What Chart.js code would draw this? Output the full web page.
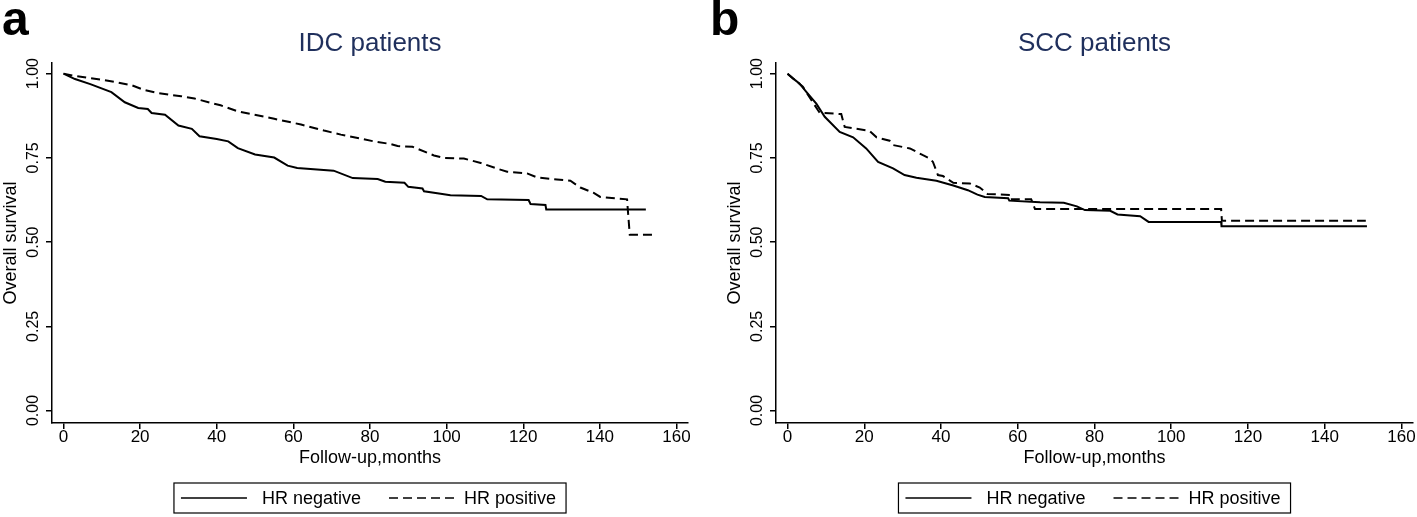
<!DOCTYPE html>
<html>
<head>
<meta charset="utf-8">
<script src="https://cdn.jsdelivr.net/npm/chart.js@4.4.1/dist/chart.umd.min.js"></script>
<style>
  html, body { margin: 0; padding: 0; background: #fff; overflow: hidden; }
  #wrap { position: relative; width: 1417px; height: 517px; }
  canvas { position: absolute; top: 0; }
  #idc { left: 0; }
  #scc { left: 708px; }
</style>
</head>
<body>
<div id="wrap">
  <canvas id="idc" width="708" height="517"></canvas>
  <canvas id="scc" width="709" height="517"></canvas>
</div>
<script>
// tick labels and legend
var xTicks = [0, 20, 40, 60, 80, 100, 120, 140, 160];
var yTicks = [0, 0.25, 0.5, 0.75, 1];
var legendLabels = ['HR negative', 'HR positive'];

// panel a - IDC patients
var idcNegMonths = [0, 3, 7, 12.5, 16, 19.5, 22, 23, 26.5, 30, 33.5, 35.5, 40, 43, 45.5, 50, 55, 58.5, 61, 70.5,
  75.5, 82, 84, 89, 90, 93.7, 94.1, 98, 101, 109, 110.6, 121.4, 121.9, 125.8, 126, 152];
var idcNegSurv = [1.000, 0.984, 0.969, 0.945, 0.915, 0.898, 0.895, 0.883, 0.878, 0.846, 0.836, 0.814, 0.806, 0.799, 0.779, 0.760, 0.751, 0.727, 0.720, 0.712,
  0.690, 0.687, 0.679, 0.676, 0.664, 0.659, 0.651, 0.644, 0.639, 0.637, 0.627, 0.625, 0.613, 0.610, 0.597, 0.597];
var idcPosMonths = [0, 3, 11.6, 17.7, 21.2, 24.7, 30.7, 34.2, 41, 45.5, 55, 62, 68, 72.4, 81, 85.4, 87.2, 91.1, 96.7, 99.3,
  104.5, 108.9, 113.2, 115.8, 121, 123.6, 128.8, 132.3, 134.9, 138.4, 140.1, 147.1, 147.3, 147.8, 154];
var idcPosSurv = [1.000, 0.993, 0.979, 0.966, 0.951, 0.942, 0.933, 0.926, 0.906, 0.888, 0.866, 0.849, 0.831, 0.819, 0.799, 0.791, 0.785, 0.783, 0.757, 0.750,
  0.748, 0.735, 0.718, 0.709, 0.704, 0.692, 0.686, 0.682, 0.662, 0.646, 0.634, 0.627, 0.595, 0.522, 0.522];

// panel b - SCC patients
var sccNegMonths = [0, 1.4, 3.1, 4.9, 7.5, 9.7, 13.6, 17.1, 20.5, 23.6, 27.5, 30.5, 33.6, 38.8, 43.2, 47, 49.5, 51.4, 57.5, 57.8,
  65.8, 72, 75.4, 77.5, 84.1, 86, 91.9, 94.1, 113, 113.1, 151];
var sccNegSurv = [1.000, 0.986, 0.971, 0.946, 0.911, 0.872, 0.827, 0.811, 0.778, 0.738, 0.719, 0.699, 0.691, 0.682, 0.668, 0.654, 0.641, 0.634, 0.630, 0.623,
  0.618, 0.617, 0.606, 0.595, 0.593, 0.582, 0.577, 0.560, 0.560, 0.547, 0.547];
var sccPosMonths = [0, 4, 7.9, 8.4, 14, 14.9, 21.4, 23.2, 26.6, 27.5, 31.9, 35.3, 37.1, 37.9, 39.2, 40.5, 43.2, 47.5, 50.1, 52.1,
  58, 58.1, 63.5, 64.5, 113, 113.2, 150.7];
var sccPosSurv = [1.000, 0.961, 0.892, 0.884, 0.880, 0.842, 0.830, 0.811, 0.801, 0.788, 0.778, 0.758, 0.748, 0.738, 0.699, 0.696, 0.676, 0.674, 0.662, 0.643,
  0.640, 0.627, 0.627, 0.598, 0.598, 0.563, 0.563];

var FONT = '"Liberation Sans", Arial, Helvetica, sans-serif';
Chart.defaults.font.family = FONT;
Chart.defaults.color = '#000';

function pts(months, surv) {
  return months.map(function (m, i) { return { x: m, y: surv[i] }; });
}

// legend in a framed box under the x axis
var boxLegend = {
  id: 'boxLegend',
  afterDraw: function (chart) {
    var ctx = chart.ctx, area = chart.chartArea, sets = chart.data.datasets;
    ctx.save();
    ctx.font = '18px ' + FONT;
    var w0 = ctx.measureText(sets[0].label).width;
    var w1 = ctx.measureText(sets[1].label).width;
    var len = 66;
    var total = 7 + len + 15 + w0 + 28 + len + 9 + w1 + 10;
    var left = (area.left + area.right) / 2 - total / 2;
    var top = chart.height - 34, h = 30, mid = top + h / 2;
    ctx.strokeStyle = '#000';
    ctx.lineWidth = 1.2;
    ctx.strokeRect(left, top, total, h);
    var x = left + 7;
    ctx.lineWidth = 1.6;
    ctx.beginPath(); ctx.moveTo(x, mid); ctx.lineTo(x + len, mid); ctx.stroke();
    x += len + 15;
    ctx.fillStyle = '#000';
    ctx.textBaseline = 'middle';
    ctx.fillText(sets[0].label, x, mid + 1);
    x += w0 + 28;
    ctx.setLineDash([9, 5]);
    ctx.beginPath(); ctx.moveTo(x, mid); ctx.lineTo(x + len, mid); ctx.stroke();
    ctx.setLineDash([]);
    x += len + 9;
    ctx.fillText(sets[1].label, x, mid + 1);
    ctx.restore();
  }
};

function makeChart(id, title, letter, negM, negS, posM, posS, padL, padR) {
  var letterPlugin = {
    id: 'panelLetter',
    afterDraw: function (chart) {
      var ctx = chart.ctx;
      ctx.save();
      ctx.font = 'bold 48px ' + FONT;
      ctx.fillStyle = '#000';
      ctx.textBaseline = 'alphabetic';
      ctx.fillText(letter, 2, 35);
      ctx.restore();
    }
  };
  return new Chart(document.getElementById(id).getContext('2d'), {
    type: 'line',
    data: {
      datasets: [{
        label: legendLabels[0],
        data: pts(negM, negS),
        borderColor: '#000',
        borderWidth: 2,
        pointRadius: 0,
        tension: 0
      }, {
        label: legendLabels[1],
        data: pts(posM, posS),
        borderColor: '#000',
        borderWidth: 2,
        borderDash: [9, 5],
        pointRadius: 0,
        tension: 0
      }]
    },
    options: {
      responsive: false,
      animation: false,
      devicePixelRatio: 1,
      layout: { padding: { left: padL, right: padR, top: 0, bottom: 44 } },
      plugins: {
        legend: { display: false },
        tooltip: { enabled: false },
        title: {
          display: true,
          text: title,
          fullSize: false,
          color: '#1f2f5c',
          font: { size: 26, weight: 'normal', lineHeight: 1.2 },
          padding: { top: 28, bottom: 4 }
        }
      },
      scales: {
        x: {
          type: 'linear',
          min: -3,
          max: 163,
          afterBuildTicks: function (s) { s.ticks = xTicks.map(function (v) { return { value: v }; }); },
          afterFit: function (s) { s.height = 50; },
          grid: { drawOnChartArea: false, drawTicks: true, tickLength: 6, lineWidth: 1.5, color: '#000' },
          border: { display: true, color: '#000', width: 1.5 },
          ticks: { color: '#000', font: { size: 17, lineHeight: 1 }, padding: 0, maxRotation: 0, autoSkip: false },
          title: { display: true, text: 'Follow-up,months', color: '#000', font: { size: 18 }, padding: { top: 0, bottom: 4 } }
        },
        y: {
          type: 'linear',
          min: -0.037,
          max: 1.031,
          afterBuildTicks: function (s) { s.ticks = yTicks.map(function (v) { return { value: v }; }); },
          afterFit: function (s) { s.width = 52; },
          grid: { drawOnChartArea: false, drawTicks: true, tickLength: 6, lineWidth: 1.5, color: '#000' },
          border: { display: true, color: '#000', width: 1.5 },
          ticks: {
            color: '#000', font: { size: 16, lineHeight: 1 }, minRotation: 90, maxRotation: 90,
            crossAlign: 'center', padding: -3,
            callback: function (v) { return Number(v).toFixed(2); }
          },
          title: { display: true, text: 'Overall survival', color: '#000', font: { size: 18 }, padding: { top: 0, bottom: 0 } }
        }
      }
    },
    plugins: [boxLegend, letterPlugin]
  });
}

makeChart('idc', 'IDC patients', 'a', idcNegMonths, idcNegSurv, idcPosMonths, idcPosSurv, 0, 20);
makeChart('scc', 'SCC patients', 'b', sccNegMonths, sccNegSurv, sccPosMonths, sccPosSurv, 16, 4);
</script>
</body>
</html>
